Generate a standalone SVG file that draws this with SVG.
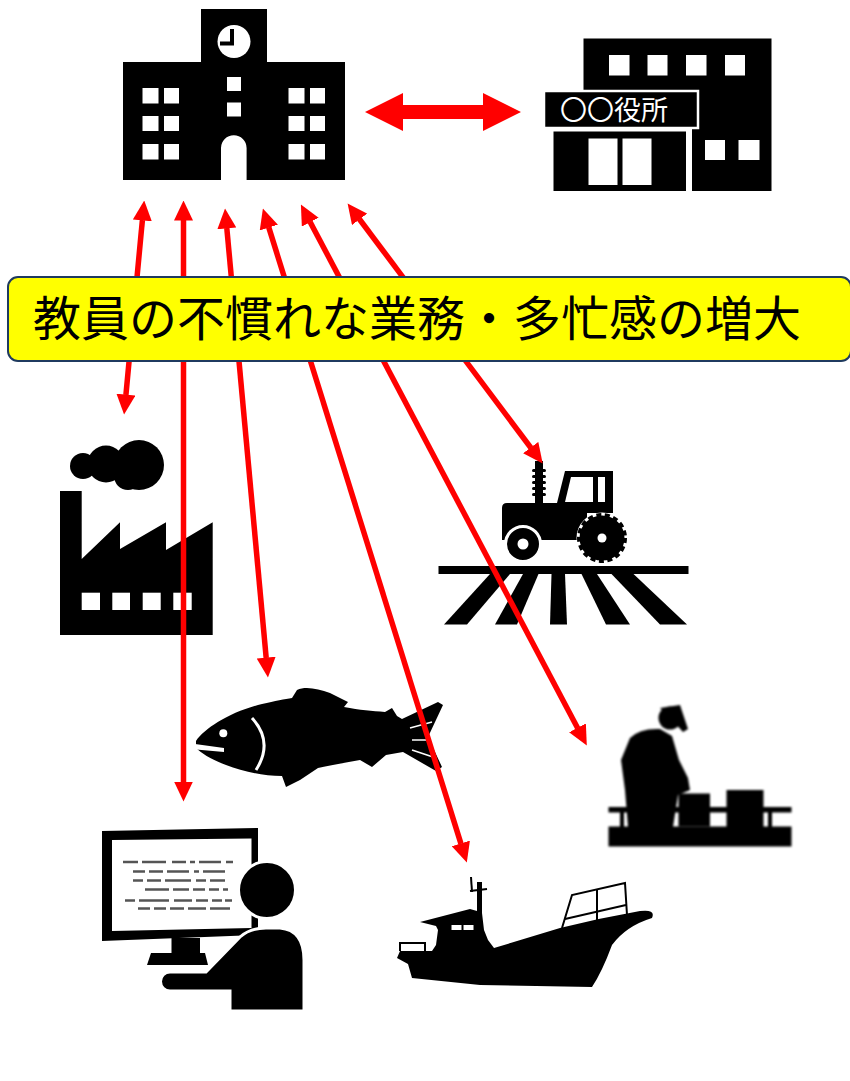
<svg xmlns="http://www.w3.org/2000/svg" width="850" height="1081" viewBox="0 0 850 1081">
  <style>
    .ink { fill: #000; }
    .hole { fill: #fff; }
    .link { stroke: #ff0000; stroke-width: 5.5; fill: none; marker-start: url(#ah); marker-end: url(#ah); }
    .code { stroke: #555; stroke-width: 2.6; fill: none; }
    .label-text { font-family: "Noto Sans CJK JP", "Noto Sans CJK SC", sans-serif; }
  </style>
  <defs>
    <marker id="ah" viewBox="0 0 20 19" markerWidth="20" markerHeight="19" refX="0.5" refY="9.5" orient="auto-start-reverse" markerUnits="userSpaceOnUse">
      <path d="M0,0 L20,9.5 L0,19 Z" fill="#ff0000"/>
    </marker>
    <filter id="soft" x="-10%" y="-10%" width="120%" height="120%">
      <feGaussianBlur stdDeviation="1"/>
    </filter>
  </defs>

  <rect width="850" height="1081" fill="#fff"/>

  <!-- school -->
  <g id="school">
    <rect class="ink" x="201" y="9" width="66" height="60"/>
    <rect class="ink" x="123" y="62" width="222" height="118"/>
    <circle class="hole" cx="234" cy="41.5" r="16.5"/>
    <path d="M232,29 L232,43.5 L220,43.5" stroke="#000" stroke-width="4" fill="none"/>
    <rect class="hole" x="227" y="77" width="14" height="14"/>
    <rect class="hole" x="227" y="102.5" width="14" height="14"/>
    <path class="hole" d="M221,180 L221,148 A12.8,12.8 0 0 1 246.6,148 L246.6,180 Z"/>
    <g class="hole">
      <rect x="142.5" y="88" width="16" height="15.5"/>
      <rect x="164" y="88" width="15" height="15.5"/>
      <rect x="142.5" y="116" width="16" height="15"/>
      <rect x="164" y="116" width="15" height="15"/>
      <rect x="142.5" y="144" width="16" height="15.5"/>
      <rect x="164" y="144" width="15" height="15.5"/>
      <rect x="288.5" y="88" width="16" height="15.5"/>
      <rect x="310" y="88" width="15" height="15.5"/>
      <rect x="288.5" y="116" width="16" height="15"/>
      <rect x="310" y="116" width="15" height="15"/>
      <rect x="288.5" y="144" width="16" height="15.5"/>
      <rect x="310" y="144" width="15" height="15.5"/>
    </g>
  </g>

  <!-- city office -->
  <g id="office">
    <rect class="ink" x="583.5" y="38.5" width="188" height="152.5"/>
    <g class="hole">
      <rect x="609" y="55" width="20.5" height="20.5"/>
      <rect x="647.5" y="55" width="20" height="20.5"/>
      <rect x="686" y="55" width="20.5" height="20.5"/>
      <rect x="725" y="55" width="20" height="20.5"/>
      <rect x="705" y="140" width="20" height="20"/>
      <rect x="738.5" y="140" width="21" height="20"/>
    </g>
    <rect class="hole" x="548" y="127" width="144" height="64"/>
    <rect class="ink" x="553.5" y="131.5" width="132.5" height="59.5"/>
    <rect class="hole" x="588.5" y="138.5" width="29" height="46.5"/>
    <rect class="hole" x="622.5" y="138.5" width="29" height="46.5"/>
    <rect class="ink" x="544" y="91" width="154" height="37" stroke="#fff" stroke-width="2.5"/>
    <text class="label-text" x="560" y="120" font-size="27" fill="#fff">〇〇役所</text>
  </g>

  <!-- factory -->
  <g id="factory">
    <circle class="ink" cx="83" cy="466" r="13"/>
    <circle class="ink" cx="106" cy="464" r="18.5"/>
    <circle class="ink" cx="139" cy="465" r="25"/>
    <circle class="ink" cx="128" cy="476" r="14"/>
    <path class="ink" d="M60,491 L81.7,491 L81.7,559 L120,522.3 L120,549 L166,522.3 L166,550 L212.7,522.3 L212.7,635 L60,635 Z"/>
    <g class="hole">
      <rect x="81.7" y="592.7" width="18.3" height="17.3"/>
      <rect x="112.3" y="592.7" width="17.7" height="17.3"/>
      <rect x="142.7" y="592.7" width="18" height="17.3"/>
      <rect x="173.3" y="592.7" width="18.4" height="17.3"/>
    </g>
  </g>

  <!-- farm tractor -->
  <g id="tractor">
    <rect class="ink" x="438.5" y="566" width="250" height="8"/>
    <g class="ink">
      <polygon points="490,574 510,574 467,624.5 444,624.5"/>
      <polygon points="523,574 538.5,574 517,624.5 495,624.5"/>
      <polygon points="551.5,574 565,574 567,624.5 550,624.5"/>
      <polygon points="581.5,574 597,574 630,624.5 606,624.5"/>
      <polygon points="611.5,574 633.5,574 687,624.5 660,624.5"/>
    </g>
    <rect class="ink" x="535" y="461" width="8" height="42"/>
    <g class="ink">
      <rect x="532" y="469" width="14" height="3" rx="1.5"/>
      <rect x="532" y="475" width="14" height="3" rx="1.5"/>
      <rect x="532" y="481" width="14" height="3" rx="1.5"/>
      <rect x="532" y="487" width="14" height="3" rx="1.5"/>
      <rect x="532" y="493" width="14" height="3" rx="1.5"/>
    </g>
    <path class="ink" d="M507,503 L557,503 L565,471 L613,471 L613,513 L587,513 L587,540 L502,540 L502,508 Q502,503 507,503 Z"/>
    <polygon class="hole" points="571,477 593,477 593,502 565,502"/>
    <rect class="hole" x="598" y="477" width="7" height="25"/>
    <circle class="ink" cx="602" cy="538" r="24" stroke="#fff" stroke-width="3"/>
    <circle cx="602" cy="538" r="23" fill="none" stroke="#000" stroke-width="4" stroke-dasharray="5 3.5"/>
    <circle class="hole" cx="602" cy="538" r="4.5"/>
    <circle class="ink" cx="523" cy="544" r="17.5" stroke="#fff" stroke-width="3"/>
    <circle class="hole" cx="523" cy="544" r="5.5"/>
  </g>

  <!-- fish -->
  <g id="fish">
    <path class="ink" d="M196,741 C205,728 230,712 262,704 C275,701 285,699 292,698 L297,690 C306,686 318,689 330,693 L348,702 L344,707 C360,710 372,711 385,712 L392,708 L397,716 L402,719 L438,702 L443,705 L428,737 L442,767 L436,771 L403,752 L386,755 L372,767 L360,760 C345,763 330,765 318,768 L300,780 L286,787 L282,776 C262,776 242,771 226,765 C212,760 201,753 196,748 Z"/>
    <polygon class="hole" points="195,744 224,748 224,752 196,749.5"/>
    <circle class="hole" cx="223.3" cy="733.3" r="4"/>
    <path d="M252,718 Q274,742 256,770" stroke="#fff" stroke-width="3" fill="none"/>
    <g stroke="#fff" stroke-width="1.5">
      <line x1="410" y1="728" x2="432" y2="722"/>
      <line x1="412" y1="740" x2="438" y2="740"/>
      <line x1="412" y1="750" x2="436" y2="758"/>
    </g>
  </g>

  <!-- worker at a table -->
  <g id="worker" filter="url(#soft)">
    <rect class="ink" x="608.5" y="807" width="183" height="5.5"/>
    <rect class="ink" x="620" y="812" width="4" height="15"/>
    <rect class="ink" x="664" y="812" width="4" height="15"/>
    <rect class="ink" x="768" y="812" width="4" height="15"/>
    <rect class="ink" x="608.5" y="826.5" width="183" height="20"/>
    <rect class="ink" x="678.5" y="793.5" width="31.5" height="33"/>
    <rect class="ink" x="726.5" y="790" width="37" height="37"/>
    <circle class="ink" cx="670" cy="718" r="11.5"/>
    <polygon class="ink" points="660,708 680,705 688,729 683,732 674,722"/>
    <path class="ink" d="M630,738 Q640,728 660,729 L672,736 L679,760 L688,778 L690,790 L678,795 L673,827 L628,827 L625,790 L621,760 Z"/>
  </g>

  <!-- person at computer -->
  <g id="computer">
    <polygon class="ink" points="102,831 258,828 258,935 102,941"/>
    <polygon class="hole" points="112,840 251.5,838.5 251.5,928 112,931"/>
    <g class="code">
      <path d="M123,862 H233" stroke-dasharray="15 4 24 6 14 4 5 4 22 5 8"/>
      <path d="M133,871.5 H225" stroke-dasharray="12 4 14 4 22 5 5 4 22"/>
      <path d="M133,880.5 H225" stroke-dasharray="10 4 14 4 26 5 10 4 20"/>
      <path d="M145,889.5 H228" stroke-dasharray="24 4 16 4 12 4 10 4 10"/>
      <path d="M125,900.5 H232" stroke-dasharray="10 4 30 5 18 4 12 4 10 3 7"/>
      <path d="M138,908.5 H230" stroke-dasharray="12 4 12 4 14 4 18 4 22"/>
    </g>
    <rect class="ink" x="171.5" y="938" width="28.5" height="16"/>
    <polygon class="ink" points="151,953 205,953 208,965 147,965"/>
    <circle class="ink" cx="267" cy="890" r="28.5" stroke="#fff" stroke-width="3"/>
    <path class="ink" stroke="#fff" stroke-width="3" d="M230,1011 L230,991 L170,991 A9.5,9.5 0 0 1 170,972 L206,972 L240,937 Q250,928 266,928 L280,928 Q304,930 304,960 L304,1011 Z"/>
  </g>

  <!-- fishing boat -->
  <g id="boat">
    <path class="ink" d="M397,958 L400,951 L432,951 L436,945 L438,930 L436,926 L420,922 L470,909 L477,911 L477,882 L482,882 L482,913 L484,930 L488,940 L494,948 L560,928 Q600,918 640,911 Q656,909 652,918 Q626,926 612,945 Q602,972 592,987 L480,985 L412,978 L408,964 Z"/>
    <g class="hole">
      <rect x="451.5" y="925" width="10" height="5"/>
      <rect x="463.5" y="925" width="10" height="5"/>
    </g>
    <g stroke="#000" stroke-width="2" fill="none">
      <path d="M470,891 L487,889"/>
      <path d="M471,877 L472,892"/>
      <path d="M400,951 L400,943 L425,943 L425,951"/>
      <path d="M562,928 L572,895 L625,883 L627,915"/>
      <path d="M597,889 L597,921"/>
      <path d="M565,919 L626,905"/>
    </g>
  </g>

  <!-- connectors -->
  <g id="connectors">
    <polygon fill="#ff0000" points="365,112 403,93 403,105 483,105 483,93 521,112 483,131 483,119 403,119 403,131"/>
    <line class="link" x1="142.4" y1="219.9" x2="125.9" y2="395.1"/>
    <line class="link" x1="183.5" y1="220" x2="183.5" y2="782"/>
    <line class="link" x1="226.8" y1="227.9" x2="266.2" y2="658.1"/>
    <line class="link" x1="268.7" y1="227.1" x2="461" y2="843.9"/>
    <line class="link" x1="310" y1="221.7" x2="577.7" y2="728.3"/>
    <line class="link" x1="359.3" y1="219" x2="531" y2="448"/>
  </g>

  <!-- caption -->
  <g id="caption">
    <rect x="8" y="277" width="843" height="84" rx="10" ry="10" fill="#ffff00" stroke="#1f3a5f" stroke-width="2"/>
    <text class="label-text" x="33" y="336" font-size="48" fill="#000">教員の不慣れな業務・多忙感の増大</text>
  </g>
</svg>
